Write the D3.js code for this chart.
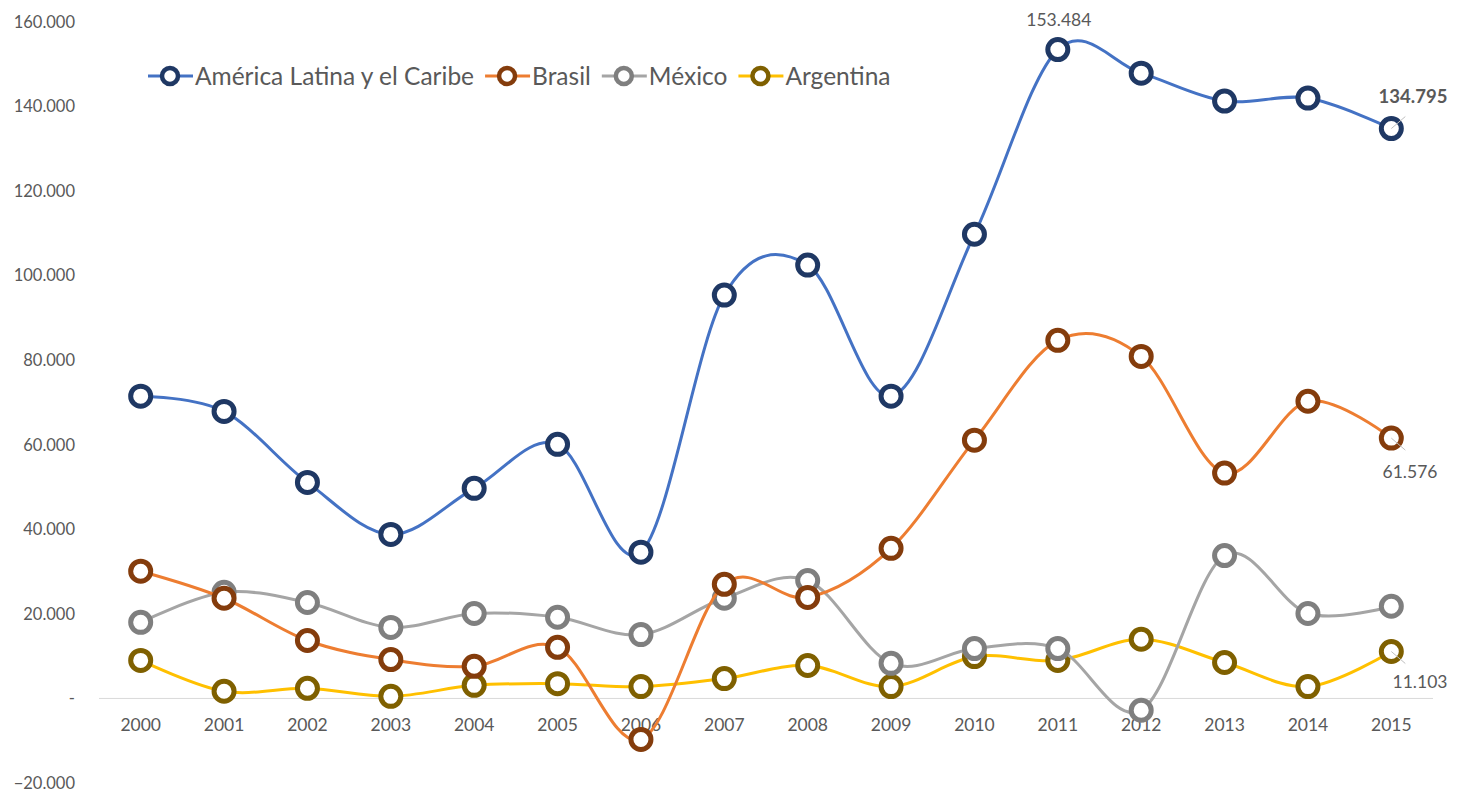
<!DOCTYPE html>
<html>
<head>
<meta charset="utf-8">
<script src="https://cdn.jsdelivr.net/npm/d3@7"></script>
<style>
  body { margin: 0; background: #fff; }
  text { font-family: Lato, "Open Sans", sans-serif; }
</style>
</head>
<body>
<div id="chart"></div>
<script>
// data
var years = ["2000","2001","2002","2003","2004","2005","2006","2007","2008","2009","2010","2011","2012","2013","2014","2015"]
var seriesNames = ["América Latina y el Caribe", "Brasil", "México", "Argentina"]
var alc = [71500, 67900, 51100, 38800, 49700, 60100, 34600, 95400, 102500, 71500, 109800, 153484, 147900, 141300, 142000, 134795]
var brasil = [30100, 23700, 13700, 9200, 7600, 12100, -9700, 27000, 23900, 35500, 61100, 84700, 80900, 53300, 70300, 61576]
var mexico = [18000, 25100, 22700, 16800, 20100, 19200, 15100, 23700, 27900, 8300, 11800, 11800, -2800, 33800, 20100, 21800]
var argentina = [9000, 1700, 2400, 500, 3100, 3500, 2800, 4700, 7800, 2800, 9900, 9000, 14000, 8500, 2800, 11103]
var yTicks = [-20000, 0, 20000, 40000, 60000, 80000, 100000, 120000, 140000, 160000]

var lineColors = ["#4472c4", "#ed7d31", "#a5a5a5", "#ffc000"]
var markerColors = ["#1f3864", "#843c0c", "#7f7f7f", "#7f6000"]

var width = 1460
var height = 800

var svg = d3.select("#chart")
    .append("svg")
    .attr("width", width)
    .attr("height", height)

var loc = d3.formatLocale({ decimal: ",", thousands: ".", grouping: [3], currency: ["", ""] })
var fmt = loc.format(",.0f")

var x = d3.scaleBand().domain(years).range([99, 1433])
var y = d3.scaleLinear().domain([-20000, 160000]).range([783, 22])
var cx = function(yr) { return x(yr) + x.bandwidth() / 2 }

// y labels
svg.append("g").selectAll("text")
    .data(yTicks)
    .enter()
    .append("text")
    .attr("x", 75)
    .attr("y", function(d) { return y(d) })
    .attr("dy", "0.35em")
    .attr("text-anchor", "end")
    .style("font-size", "16.5px")
    .style("fill", "#595959")
    .text(function(d) { return d === 0 ? "-" : fmt(d) })

// zero line
svg.append("line")
    .attr("x1", 99).attr("x2", 1433)
    .attr("y1", y(0)).attr("y2", y(0))
    .style("stroke", "#d9d9d9").style("stroke-width", 1)

// x labels
svg.append("g").selectAll("text")
    .data(years)
    .enter()
    .append("text")
    .attr("x", function(d) { return cx(d) })
    .attr("y", 725)
    .attr("dy", "0.35em")
    .attr("text-anchor", "middle")
    .style("font-size", "17.5px")
    .style("fill", "#595959")
    .text(function(d) { return d })

var allSeries = [alc, brasil, mexico, argentina]

var line = d3.line()
    .x(function(d, i) { return cx(years[i]) })
    .y(function(d) { return y(d) })
    .curve(d3.curveCatmullRom.alpha(0))

// draw series from last to first so ALC stays on top
for (var s = allSeries.length - 1; s >= 0; s--) {
    var g = svg.append("g")
    g.append("path")
        .datum(allSeries[s])
        .attr("d", line)
        .style("fill", "none")
        .style("stroke", lineColors[s])
        .style("stroke-width", 3)
    g.selectAll("circle")
        .data(allSeries[s])
        .enter()
        .append("circle")
        .attr("cx", function(d, i) { return cx(years[i]) })
        .attr("cy", function(d) { return y(d) })
        .attr("r", 10)
        .style("fill", "#fff")
        .style("stroke", markerColors[s])
        .style("stroke-width", 5)
}

// data labels
var last = years.length - 1
var labels = [
    { v: alc[11], px: cx(years[11]), py: y(alc[11]), tx: cx(years[11]) + 1, ty: 20, bold: false, lead: false },
    { v: alc[last], px: cx(years[last]), py: y(alc[last]), tx: 1413, ty: 97, bold: true, lead: true },
    { v: brasil[last], px: cx(years[last]), py: y(brasil[last]), tx: 1410, ty: 472, bold: false, lead: true },
    { v: argentina[last], px: cx(years[last]), py: y(argentina[last]), tx: 1420, ty: 682, bold: false, lead: true }
]
labels.forEach(function(l) {
    if (l.lead) {
        svg.append("line")
            .attr("x1", l.px).attr("y1", l.py)
            .attr("x2", l.px + 14).attr("y2", l.py + (l.ty < l.py ? -12 : 12))
            .style("stroke", "#bfbfbf").style("stroke-width", 1)
    }
    svg.append("text")
        .attr("x", l.tx)
        .attr("y", l.ty)
        .attr("dy", "0.35em")
        .attr("text-anchor", "middle")
        .style("font-size", l.bold ? "18.5px" : "17.5px")
        .style("font-weight", l.bold ? "bold" : "normal")
        .style("fill", "#595959")
        .text(fmt(l.v))
})

// legend
var lx = 148
var legend = svg.append("g")
seriesNames.forEach(function(name, i) {
    var item = legend.append("g")
    item.append("line")
        .attr("x1", lx).attr("x2", lx + 45)
        .attr("y1", 76).attr("y2", 76)
        .style("stroke", lineColors[i]).style("stroke-width", 3)
    item.append("circle")
        .attr("cx", lx + 22).attr("cy", 76).attr("r", 8)
        .style("fill", "#fff")
        .style("stroke", markerColors[i]).style("stroke-width", 4.5)
    var t = item.append("text")
        .attr("x", lx + 47).attr("y", 76)
        .attr("dy", "0.35em")
        .style("font-size", "24.5px")
        .style("fill", "#595959")
        .text(name)
    lx = lx + 47 + t.node().getComputedTextLength() + 11
})
</script>
</body>
</html>
